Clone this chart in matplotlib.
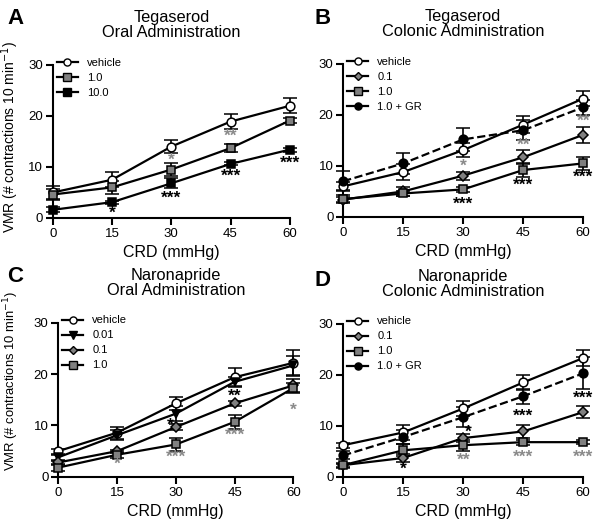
import numpy as np
import matplotlib.pyplot as plt
from matplotlib.lines import Line2D

plt.rcParams['font.family'] = ['Liberation Sans', 'DejaVu Sans']

crd = [0, 15, 30, 45, 60]
GRAY = '#808080'
STAR_GRAY = '#8a8a8a'

# ---------- A: Tegaserod oral ----------
a_vehicle = [5.0, 7.5, 14.0, 18.9, 22.0]
a_vehicle_err = [1.3, 1.5, 1.3, 1.5, 1.5]
a_10 = [4.6, 6.0, 9.5, 13.7, 19.1]
a_10_err = [1.0, 1.3, 1.2, 0.8, 0.5]
a_100 = [1.6, 3.1, 6.8, 10.6, 13.4]
a_100_err = [0.5, 0.3, 1.0, 0.3, 0.4]
a_stars = [(15, 1.0, '*', 'k'), (30, 11.3, '*', STAR_GRAY), (30, 3.8, '***', 'k'),
           (45, 16.0, '**', STAR_GRAY), (45, 8.1, '***', 'k'), (60, 10.8, '***', 'k')]

# ---------- B: Tegaserod colonic ----------
b_vehicle = [6.0, 8.8, 13.1, 18.1, 23.2]
b_vehicle_err = [0.8, 1.5, 1.3, 1.6, 1.5]
b_01 = [3.4, 5.0, 8.1, 11.7, 16.1]
b_01_err = [0.5, 0.8, 0.8, 1.4, 1.6]
b_10 = [3.5, 4.6, 5.4, 9.2, 10.5]
b_10_err = [0.8, 0.5, 0.5, 1.3, 1.2]
b_gr = [7.0, 10.5, 15.2, 17.0, 21.5]
b_gr_err = [2.0, 2.1, 2.3, 2.0, 1.5]
b_stars = [(30, 10.0, '*', STAR_GRAY), (30, 2.5, '***', 'k'), (45, 14.0, '**', STAR_GRAY),
           (45, 6.3, '***', 'k'), (60, 18.8, '**', STAR_GRAY), (60, 7.7, '***', 'k')]

# ---------- C: Naronapride oral ----------
c_vehicle = [5.0, 8.6, 14.3, 19.4, 22.2]
c_vehicle_err = [0.5, 1.2, 1.2, 1.7, 2.5]
c_001 = [3.8, 8.1, 12.3, 18.5, 21.7]
c_001_err = [0.5, 1.0, 1.5, 1.0, 1.8]
c_01 = [2.8, 5.0, 9.7, 14.3, 17.8]
c_01_err = [0.3, 0.3, 0.5, 0.5, 1.3]
c_10 = [1.8, 4.3, 6.3, 10.7, 17.3]
c_10_err = [0.6, 0.6, 1.3, 1.4, 1.0]
c_stars = [(15, 2.5, '*', STAR_GRAY), (28.6, 10.0, '*', 'k'), (30, 3.8, '***', STAR_GRAY),
           (45, 15.7, '**', 'k'), (45, 8.0, '***', STAR_GRAY), (60, 13.0, '*', STAR_GRAY)]

# ---------- D: Naronapride colonic ----------
d_vehicle = [6.2, 8.7, 13.4, 18.5, 23.3]
d_vehicle_err = [0.5, 1.5, 1.5, 1.5, 1.5]
d_01 = [2.3, 3.7, 7.6, 8.9, 12.7]
d_01_err = [0.3, 0.8, 0.8, 1.2, 1.2]
d_10 = [2.3, 5.2, 6.2, 6.8, 6.8]
d_10_err = [0.5, 1.2, 1.1, 0.5, 0.4]
d_gr = [4.2, 7.8, 11.7, 15.8, 20.3]
d_gr_err = [0.8, 1.3, 2.0, 1.5, 3.1]
d_stars = [(15, 1.4, '*', 'k'), (31.2, 8.8, '*', 'k'), (30, 3.3, '**', STAR_GRAY),
           (45, 11.8, '***', 'k'), (45, 3.8, '***', STAR_GRAY), (60, 15.4, '***', 'k'),
           (60, 3.8, '***', STAR_GRAY)]

fig = plt.figure(figsize=(6, 5.24), dpi=100)

positions = {
    'A': [0.088, 0.584, 0.395, 0.292],
    'B': [0.572, 0.586, 0.400, 0.292],
    'C': [0.097, 0.090, 0.392, 0.294],
    'D': [0.572, 0.090, 0.400, 0.292],
}
titles = {
    'A': 'Tegaserod\nOral Administration',
    'B': 'Tegaserod\nColonic Administration',
    'C': 'Naronapride\nOral Administration',
    'D': 'Naronapride\nColonic Administration',
}
letter_pos = {'A': (0.025, 0.965), 'B': (0.537, 0.965),
              'C': (0.025, 0.473), 'D': (0.538, 0.465)}

# (y, err, label, marker, face, linestyle)
series = {
    'A': [(a_vehicle, a_vehicle_err, 'vehicle', 'o', 'white', '-'),
          (a_10, a_10_err, '1.0', 's', GRAY, '-'),
          (a_100, a_100_err, '10.0', 's', 'black', '-')],
    'B': [(b_vehicle, b_vehicle_err, 'vehicle', 'o', 'white', '-'),
          (b_01, b_01_err, '0.1', 'D', GRAY, '-'),
          (b_10, b_10_err, '1.0', 's', GRAY, '-'),
          (b_gr, b_gr_err, '1.0 + GR', 'o', 'black', '--')],
    'C': [(c_vehicle, c_vehicle_err, 'vehicle', 'o', 'white', '-'),
          (c_001, c_001_err, '0.01', 'v', 'black', '-'),
          (c_01, c_01_err, '0.1', 'D', GRAY, '-'),
          (c_10, c_10_err, '1.0', 's', GRAY, '-')],
    'D': [(d_vehicle, d_vehicle_err, 'vehicle', 'o', 'white', '-'),
          (d_01, d_01_err, '0.1', 'D', GRAY, '-'),
          (d_10, d_10_err, '1.0', 's', GRAY, '-'),
          (d_gr, d_gr_err, '1.0 + GR', 'o', 'black', '--')],
}
stars = {'A': a_stars, 'B': b_stars, 'C': c_stars, 'D': d_stars}
ylabel_size = {'A': 10.0, 'C': 9.4}
ylabel_xy = {'A': (-0.135, 0.53), 'C': (-0.16, 0.62)}

for key in ['A', 'B', 'C', 'D']:
    ax = fig.add_axes(positions[key])
    handles = []
    for y, err, label, marker, face, ls in series[key]:
        ms = 5 if marker == 'D' else 6.3
        eb = ax.errorbar(crd, y, yerr=err, color='black', ls=ls, lw=1.6,
                         marker=marker, ms=ms, mfc=face, mec='black', mew=1.1,
                         capsize=5, elinewidth=1.2, capthick=1.2,
                         clip_on=False, zorder=3)
        for art in eb.lines[1] + eb.lines[2]:
            art.set_clip_on(False)
        handles.append(Line2D([], [], color='black', ls='-', lw=1.6, marker=marker,
                              ms=ms - 1.2, mfc=face, mec='black', mew=1.0, label=label))
    for x, y, s, c in stars[key]:
        ax.text(x, y, s, color=c, fontsize=12.5, ha='center', va='center',
                fontweight='bold', zorder=4)
    ax.set_xlim(0, 60)
    ax.set_ylim(0, 30)
    ax.set_xticks(crd)
    ax.set_yticks([0, 10, 20, 30])
    ax.spines['top'].set_visible(False)
    ax.spines['right'].set_visible(False)
    ax.spines['left'].set_linewidth(1.5)
    ax.spines['bottom'].set_linewidth(1.5)
    ax.tick_params(direction='out', length=5, width=1.5, labelsize=9.5, pad=2)
    ax.set_xlabel('CRD (mmHg)', fontsize=11.5, labelpad=4)
    if key in ylabel_size:
        ax.set_ylabel('VMR (# contractions 10 min$^{-1}$)', fontsize=ylabel_size[key])
        ax.yaxis.set_label_coords(*ylabel_xy[key])
    ax.set_title(titles[key], fontsize=11.8, pad=20, linespacing=1.0)
    ax.legend(handles=handles, loc='upper left', bbox_to_anchor=(0.017, 1.048),
              frameon=False, fontsize=8, handlelength=1.9, handletextpad=0.8,
              labelspacing=0.45, borderaxespad=0.0, borderpad=0.0)
    fig.text(*letter_pos[key], key, fontsize=16, fontweight='bold',
             ha='center', va='center')

fig.savefig('out.png', dpi=100)
